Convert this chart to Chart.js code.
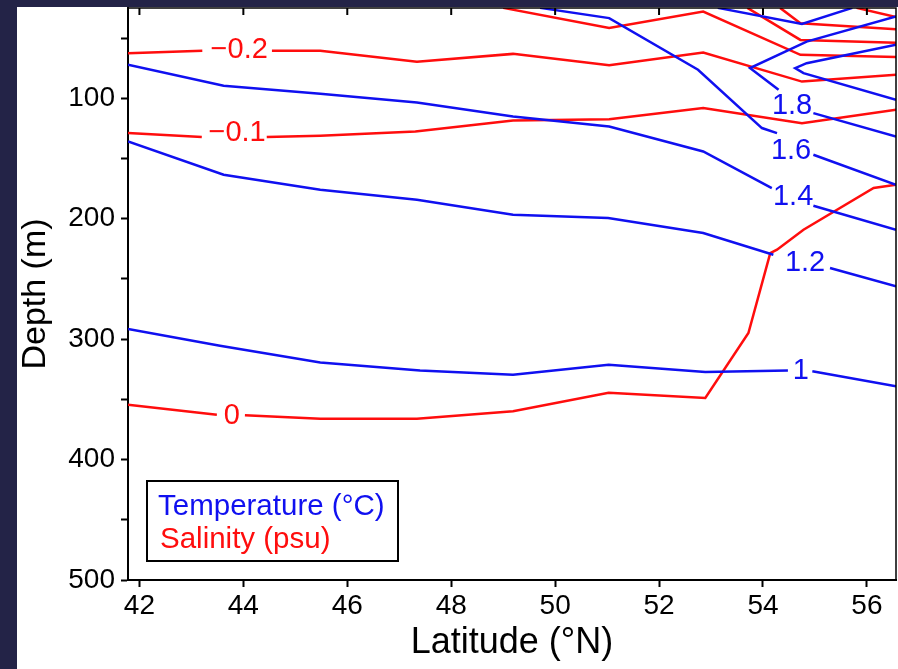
<!DOCTYPE html>
<html>
<head>
<meta charset="utf-8">
<script src="https://cdn.jsdelivr.net/npm/chart.js@4"></script>
<style>
  html, body { margin: 0; padding: 0; background: #232347; }
  canvas { display: block; }
</style>
</head>
<body>
<canvas id="section" width="898" height="669"></canvas>
<script>
// tick positions
var latTicks = [42, 44, 46, 48, 50, 52, 54, 56];
var depthTicks = [50, 100, 150, 200, 250, 300, 350, 400, 450, 500];
var depthLabels = [100, 200, 300, 400, 500];

// Temperature contours (°C)
var t10Lat = [41.78, 43.55, 45.48, 47.4, 49.19, 51.03, 52.89, 54.48, null, 54.95, 56.56];
var t10Dep = [291.5, 305.4, 319.3, 326.0, 329.5, 321.2, 327.2, 326.1, null, 326.7, 339.2];
var t12Lat = [41.78, 43.62, 45.48, 47.34, 49.19, 51.02, 52.85, 54.2, null, 55.29, 56.56];
var t12Dep = [135.9, 163.5, 176.0, 184.2, 196.7, 199.4, 211.9, 229.9, null, 240.9, 256.2];
var t14Lat = [41.78, 43.62, 45.48, 47.34, 49.19, 51.04, 52.85, 54.17, null, 54.97, 56.56];
var t14Dep = [72.2, 89.6, 96.3, 103.5, 115.1, 123.4, 144.1, 174.5, null, 189.2, 209.1];
var t16Lat = [49.71, 51.04, 52.75, 53.98, 54.27, null, 54.97, 56.56];
var t16Dep = [24.9, 33.4, 76.3, 124.7, 128.9, null, 146.9, 171.8];
var t18Lat = [56.56, 54.84, 53.75, 54.3, null, 54.97, 56.56];
var t18Dep = [32.1, 52.9, 74.9, 92.9, null, 112.3, 131.7];
var t20Lat = [56.56, 54.84, 54.62, 54.78, 56.56];
var t20Dep = [55.6, 70.8, 74.9, 79.1, 101.2];
var t20bLat = [53.13, 54.75, 55.72];
var t20bDep = [24.9, 38.2, 24.9];

// Salinity anomaly contours (psu)
var s00Lat = [41.78, 43.49, null, 44.03, 45.48, 47.34, 49.19, 51.03, 52.89, 53.72, 54.14, 54.27, 54.78, 56.13, 56.56];
var s00Dep = [354.4, 362.7, null, 363.2, 366.0, 366.0, 359.9, 344.6, 348.8, 294.9, 228.5, 225.7, 209.1, 174.5, 171.8];
var s01Lat = [41.78, 43.2, null, 44.45, 45.48, 47.31, 49.19, 51.04, 52.85, 54.75, 56.56];
var s01Dep = [128.9, 132.2, null, 132.2, 131.1, 127.6, 118.4, 117.3, 108.1, 120.6, 109.5];
var s02Lat = [41.78, 43.21, null, 44.55, 45.48, 47.34, 49.19, 51.04, 52.85, 54.75, 56.56];
var s02Dep = [62.5, 60.6, null, 60.4, 60.6, 69.7, 63.1, 72.5, 62.0, 86.1, 80.5];
var s03Lat = [49.0, 51.04, 52.85, 54.72, 56.56];
var s03Dep = [24.9, 41.6, 28.0, 63.9, 65.6];
var s04Lat = [53.7, 54.72, 56.56];
var s04Dep = [24.9, 51.5, 53.9];
var s05Lat = [54.33, 54.72, 56.56];
var s05Dep = [24.9, 37.6, 42.6];
var s06Lat = [55.8, 56.56];
var s06Dep = [24.9, 32.4];

// contour labels
var labText = ['\u22120.2', '\u22120.1', '0', '1.8', '1.6', '1.4', '1.2', '1'];
var labLat = [43.92, 43.88, 43.78, 54.56, 54.54, 54.58, 54.81, 54.73];
var labDep = [59.8, 128.6, 364.1, 106.2, 143.6, 181.7, 236.5, 326.1];
var labKind = ['s', 's', 's', 't', 't', 't', 't', 't'];

var BLUE = '#1010f0';
var RED = '#ff0d0d';
var FONT = "'Liberation Sans', Arial, Helvetica, sans-serif";
Chart.defaults.font.family = FONT;

function pts(lat, dep) {
  return lat.map(function (v, i) { return { x: v, y: dep[i] }; });
}
function line(lat, dep, color) {
  return {
    data: pts(lat, dep),
    borderColor: color,
    borderWidth: 2.5,
    pointRadius: 0,
    showLine: true,
    spanGaps: false,
    tension: 0,
  };
}

// navy page with white panel
var bgPlugin = {
  id: 'bg',
  beforeDraw: function (chart) {
    var c = chart.ctx;
    c.save();
    c.fillStyle = '#232347';
    c.fillRect(0, 0, chart.width, chart.height);
    c.fillStyle = '#ffffff';
    c.fillRect(17, 7, chart.width - 17, chart.height - 7);
    c.restore();
  }
};

// top/right frame, inward top ticks, contour labels, legend box
var decoPlugin = {
  id: 'deco',
  afterDraw: function (chart) {
    var c = chart.ctx, a = chart.chartArea;
    var xs = chart.scales.x, ys = chart.scales.y;
    c.save();
    c.strokeStyle = '#000';
    c.lineWidth = 1.5;
    c.beginPath();
    c.moveTo(a.left, a.top); c.lineTo(a.right, a.top); c.lineTo(a.right, a.bottom);
    c.stroke();
    c.lineWidth = 2;
    latTicks.forEach(function (v) {
      var px = xs.getPixelForValue(v);
      c.beginPath(); c.moveTo(px, a.top); c.lineTo(px, a.top + 7); c.stroke();
    });

    c.font = '29px ' + FONT;
    c.textAlign = 'center';
    c.textBaseline = 'middle';
    labText.forEach(function (t, i) {
      c.fillStyle = labKind[i] === 't' ? BLUE : RED;
      c.fillText(t, xs.getPixelForValue(labLat[i]), ys.getPixelForValue(labDep[i]));
    });

    var bx = a.left + 19, by = a.bottom - 99;
    c.fillStyle = '#fff';
    c.fillRect(bx, by, 251, 80);
    c.strokeStyle = '#000';
    c.lineWidth = 2;
    c.strokeRect(bx, by, 251, 80);
    c.font = '29.5px ' + FONT;
    c.textAlign = 'left';
    c.textBaseline = 'alphabetic';
    c.fillStyle = BLUE;
    c.fillText('Temperature (\u00b0C)', bx + 11, by + 34);
    c.fillStyle = RED;
    c.fillText('Salinity (psu)', bx + 13, by + 67);
    c.restore();
  }
};

var ctx_section = document.getElementById('section');
var section = new Chart(ctx_section, {
  type: 'scatter',
  data: {
    datasets: [
      line(t10Lat, t10Dep, BLUE),
      line(t12Lat, t12Dep, BLUE),
      line(t14Lat, t14Dep, BLUE),
      line(t16Lat, t16Dep, BLUE),
      line(t18Lat, t18Dep, BLUE),
      line(t20Lat, t20Dep, BLUE),
      line(t20bLat, t20bDep, BLUE),
      line(s00Lat, s00Dep, RED),
      line(s01Lat, s01Dep, RED),
      line(s02Lat, s02Dep, RED),
      line(s03Lat, s03Dep, RED),
      line(s04Lat, s04Dep, RED),
      line(s05Lat, s05Dep, RED),
      line(s06Lat, s06Dep, RED),
    ],
  },
  options: {
    responsive: false,
    animation: false,
    layout: { padding: { left: 17, top: 8, right: 2, bottom: 0 } },
    plugins: {
      legend: { display: false },
      tooltip: { enabled: false },
    },
    scales: {
      x: {
        type: 'linear',
        min: 41.78,
        max: 56.56,
        afterFit: function (s) { s.height = 89; s.paddingLeft = 0; s.paddingRight = 0; },
        afterBuildTicks: function (s) {
          s.ticks = latTicks.map(function (v) { return { value: v }; });
        },
        grid: { drawOnChartArea: false, tickLength: 7, tickWidth: 2, color: '#000' },
        border: { display: true, color: '#000', width: 2 },
        ticks: { color: '#000', padding: 2, font: { size: 28 }, maxRotation: 0 },
        title: {
          display: true,
          text: 'Latitude (\u00b0N)',
          color: '#000',
          font: { size: 36, lineHeight: 1 },
          padding: { top: 0, bottom: 8 },
        },
      },
      y: {
        type: 'linear',
        reverse: true,
        min: 25,
        max: 500,
        afterFit: function (s) { s.width = 111; s.paddingTop = 0; s.paddingBottom = 0; },
        afterBuildTicks: function (s) {
          s.ticks = depthTicks.map(function (v) { return { value: v }; });
        },
        grid: { drawOnChartArea: false, tickLength: 7, tickWidth: 2, color: '#000' },
        border: { display: true, color: '#000', width: 2 },
        ticks: {
          color: '#000',
          padding: 6,
          font: { size: 28 },
          callback: function (v) { return depthLabels.indexOf(v) >= 0 ? String(v) : ''; },
        },
        title: {
          display: true,
          text: 'Depth (m)',
          color: '#000',
          font: { size: 34, lineHeight: 1 },
          padding: { top: 2, bottom: 0 },
        },
      },
    },
  },
  plugins: [bgPlugin, decoPlugin],
});
</script>
</body>
</html>
